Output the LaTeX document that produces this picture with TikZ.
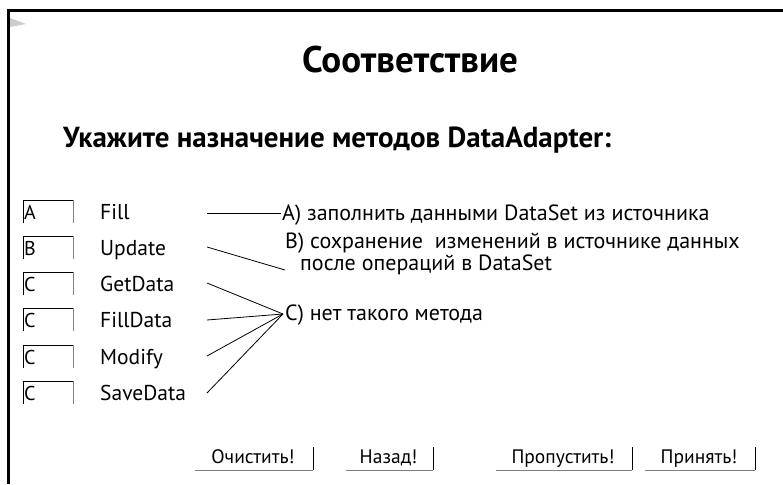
\documentclass[tikz,border=0pt]{standalone}
\usepackage{fontspec}
\setmainfont{PT Sans}
\usetikzlibrary{positioning}

\tikzset{
    meth/.style={anchor=base west, inner sep=0pt, font=\fontsize{21.5}{24}\selectfont},
    ans/.style={anchor=base west, inner sep=0pt, font=\fontsize{22}{20}\selectfont, align=left},
    field/.style={anchor=base west, inner sep=0pt, font=\fontsize{20}{22}\selectfont},
    btn/.style={anchor=base, inner sep=0pt, font=\fontsize{19.5}{20}\selectfont},
    link/.style={line width=0.8pt},
}

\begin{document}
\begin{tikzpicture}[x=1pt, y=-1pt]
    \useasboundingbox (0,0) rectangle (783,484);
    % frame
    \fill [white] (0,0) rectangle (783,484);
    \draw [line width=3pt] (8.5,484) -- (8.5,11) -- (783,11);
    \fill [gray!40] (10,18) -- (26,24) -- (10,27) -- cycle;

    % title
    \node (title) at (410,73) [anchor=base, inner sep=0pt, font=\fontsize{37}{40}\selectfont\bfseries] {Соответствие};
    \node (task) at (63,147) [anchor=base west, inner sep=0pt, font=\fontsize{29}{32}\selectfont\bfseries] {Укажите назначение методов DataAdapter:};

    % answer fields and methods
    \foreach \y/\ltr/\nm/\txt in {219/A/fill/Fill, 255/B/upd/Update, 291/C/get/GetData, 327/C/filld/FillData, 364/C/mod/Modify, 400/C/save/SaveData} {
        \draw [line width=0.8pt] (23,\y+4) -- (23,\y-19) -- (73,\y-19);
        \draw [line width=0.8pt, gray] (73,\y-19) -- (73,\y+4);
        \node [field] at (24,\y) {\ltr};
        \node [meth] (\nm) at (100,\y) {\txt};
    }

    % answers
    \node [ans] (ansA) at (282,220) {А) заполнить данными DataSet из источника};
    \node [ans] (ansB) at (285,270) {В) сохранение\ \ изменений в источнике данных\\\hspace{15pt}после операций в DataSet};
    \node [ans] (ansC) at (285,320) {С) нет такого метода};

    % links
    \coordinate (pA) at (281,213);
    \coordinate (pB) at (285,270);
    \coordinate (pC) at (283,314);
    \draw [link] (207,213) -- (pA);
    \draw [link] (207,247) -- (pB);
    \draw [link] (207,283) -- (pC);
    \draw [link] (207,320) -- (pC);
    \draw [link] (207,356) -- (pC);
    \draw [link] (207,393) -- (pC);

    % buttons
    \foreach \xa/\xb/\txt/\nm in {195/313/Очистить!/bclr, 346/433/Назад!/bback, 496/632/Пропустить!/bskip, 645/755/Принять!/bok} {
        \node [btn] (\nm) at ({(\xa+\xb)/2-1},463) {\txt};
        \draw [gray, line width=0.8pt] (\xa,470) -- (\xb,470);
        \draw [line width=0.8pt] (\xb,447) -- (\xb,470);
    }
\end{tikzpicture}
\end{document}
